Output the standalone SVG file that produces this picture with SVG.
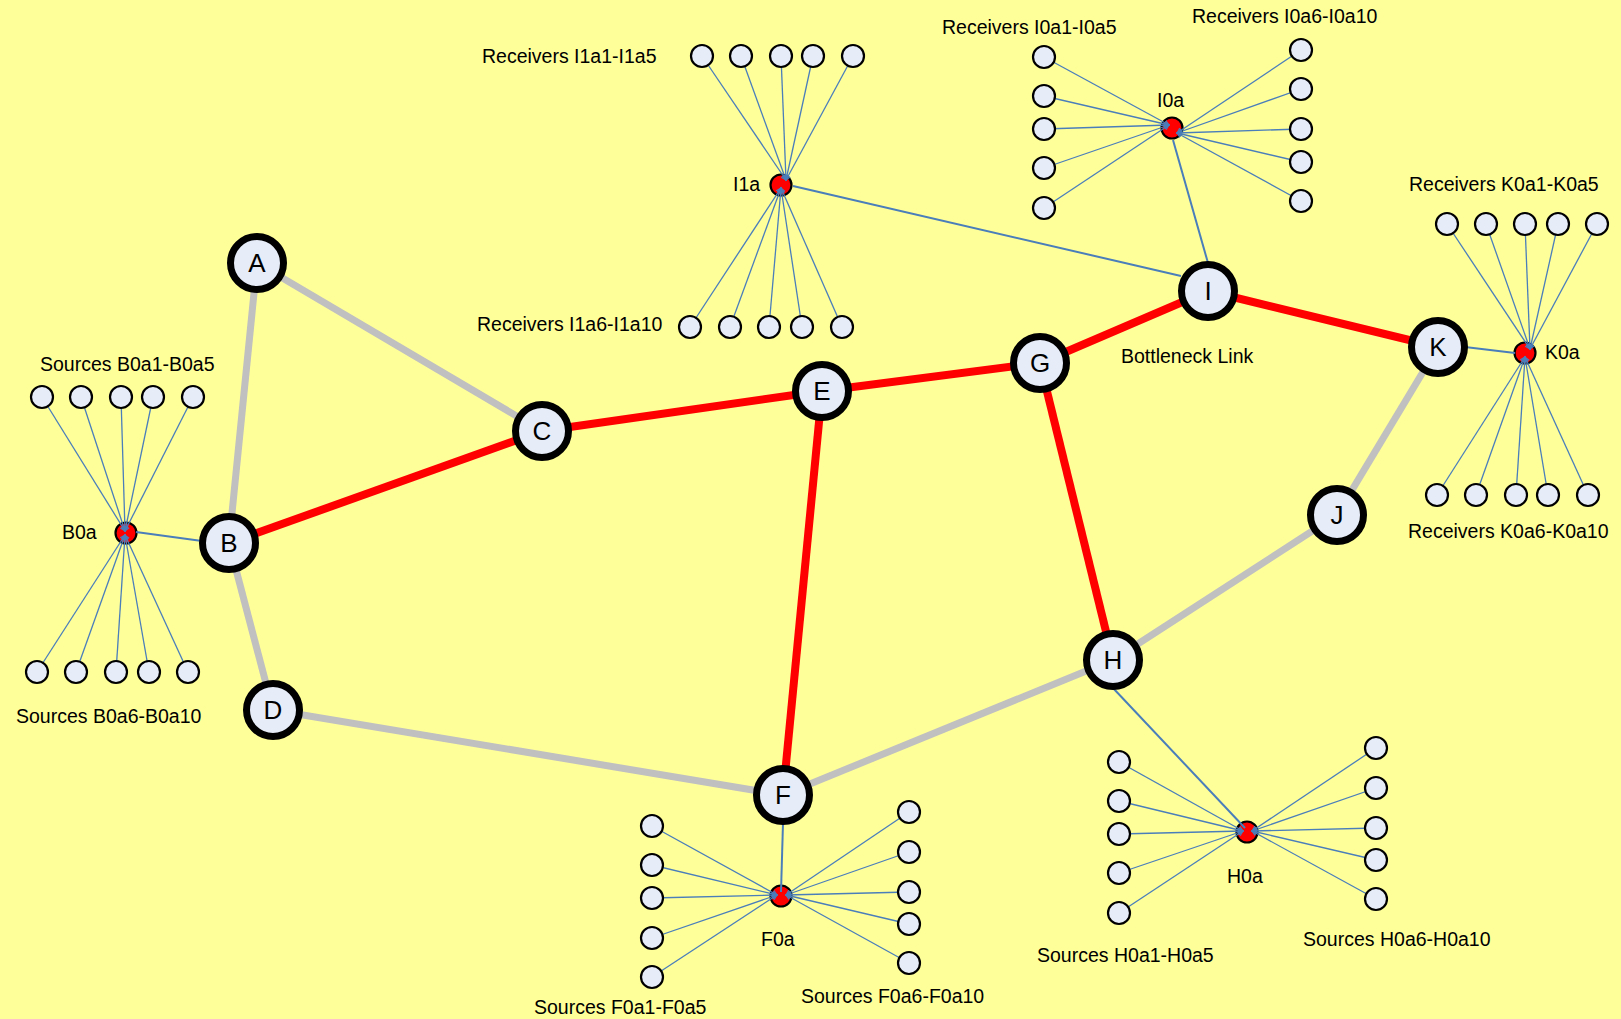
<svg xmlns="http://www.w3.org/2000/svg" width="1621" height="1019" viewBox="0 0 1621 1019">
<style>
.bg{fill:#FFFF99}
.gray{stroke:#C0C0C0;stroke-width:7;fill:none}
.red{stroke:#FF0000;stroke-width:8;fill:none}
.thin{stroke:#4A7EBB;stroke-width:1.3;fill:none;marker-end:url(#arr)}
.up{stroke:#4A7EBB;stroke-width:2;fill:none}
.main circle{fill:#E6ECF8;stroke:#000;stroke-width:7}
.main text{font-family:"Liberation Sans",Arial,sans-serif;font-size:26px;text-anchor:middle;fill:#000}
.leaf circle{fill:#E6ECF8;stroke:#000;stroke-width:2.2}
.hub circle{fill:#FF0000;stroke:#000;stroke-width:2.2}
.lbl{font-family:"Liberation Sans",Arial,sans-serif;font-size:19.5px;fill:#000}
</style>
<defs>
<marker id="arr" markerWidth="7" markerHeight="7" refX="5" refY="3" orient="auto" markerUnits="userSpaceOnUse">
<path d="M0,0.5 L5,3 L0,5.5" fill="none" stroke="#4A7EBB" stroke-width="1.1"/>
</marker>
</defs>
<rect class="bg" x="0" y="0" width="1621" height="1019"/>

<g id="links">
<line class="gray" x1="257" y1="263" x2="229" y2="543"/>
<line class="gray" x1="257" y1="263" x2="542" y2="431"/>
<line class="gray" x1="229" y1="543" x2="273" y2="710"/>
<line class="gray" x1="273" y1="710" x2="783" y2="795"/>
<line class="gray" x1="783" y1="795" x2="1113" y2="660"/>
<line class="gray" x1="1113" y1="660" x2="1337" y2="515"/>
<line class="gray" x1="1337" y1="515" x2="1438" y2="347"/>
<line class="red" x1="229" y1="543" x2="542" y2="431"/>
<line class="red" x1="542" y1="431" x2="822" y2="391"/>
<line class="red" x1="822" y1="391" x2="1040" y2="363"/>
<line class="red" x1="1040" y1="363" x2="1208" y2="291"/>
<line class="red" x1="1208" y1="291" x2="1438" y2="347"/>
<line class="red" x1="822" y1="391" x2="783" y2="795"/>
<line class="red" x1="1040" y1="363" x2="1113" y2="660"/>
</g>

<g id="hubs" class="hub">
<g id="B0a"><circle cx="126" cy="533" r="10.5"/></g>
<g id="I1a"><circle cx="781" cy="185" r="10.5"/></g>
<g id="I0a"><circle cx="1172" cy="128" r="10.5"/></g>
<g id="K0a"><circle cx="1525" cy="353" r="10.5"/></g>
<g id="F0a"><circle cx="781" cy="896" r="10.5"/></g>
<g id="H0a"><circle cx="1247" cy="832" r="10.5"/></g>
</g>

<g id="connectors">
<!-- B0a -->
<line class="thin" x1="42" y1="397" x2="125" y2="531"/>
<line class="thin" x1="81" y1="397" x2="125" y2="531"/>
<line class="thin" x1="121" y1="397" x2="125" y2="531"/>
<line class="thin" x1="153" y1="397" x2="125" y2="531"/>
<line class="thin" x1="193" y1="397" x2="125" y2="531"/>
<line class="thin" x1="37" y1="672" x2="125" y2="535"/>
<line class="thin" x1="76" y1="672" x2="125" y2="535"/>
<line class="thin" x1="116" y1="672" x2="125" y2="535"/>
<line class="thin" x1="149" y1="672" x2="125" y2="535"/>
<line class="thin" x1="188" y1="672" x2="125" y2="535"/>
<line class="up" x1="136" y1="532" x2="202" y2="541"/>
<!-- I1a -->
<line class="thin" x1="702" y1="56" x2="786" y2="180"/>
<line class="thin" x1="741" y1="56" x2="786" y2="180"/>
<line class="thin" x1="781" y1="56" x2="786" y2="180"/>
<line class="thin" x1="813" y1="56" x2="786" y2="180"/>
<line class="thin" x1="853" y1="56" x2="786" y2="180"/>
<line class="thin" x1="690" y1="327" x2="781" y2="188"/>
<line class="thin" x1="730" y1="327" x2="781" y2="188"/>
<line class="thin" x1="769" y1="327" x2="781" y2="188"/>
<line class="thin" x1="802" y1="327" x2="781" y2="188"/>
<line class="thin" x1="842" y1="327" x2="781" y2="188"/>
<line class="up" x1="793" y1="186" x2="1181" y2="276"/>
<!-- I0a -->
<line class="thin" x1="1044" y1="57" x2="1169" y2="125"/>
<line class="thin" x1="1044" y1="96" x2="1169" y2="125"/>
<line class="thin" x1="1044" y1="129" x2="1169" y2="125"/>
<line class="thin" x1="1044" y1="168" x2="1169" y2="125"/>
<line class="thin" x1="1044" y1="208" x2="1169" y2="125"/>
<line class="thin" x1="1301" y1="50" x2="1177" y2="133"/>
<line class="thin" x1="1301" y1="89" x2="1177" y2="133"/>
<line class="thin" x1="1301" y1="129" x2="1177" y2="133"/>
<line class="thin" x1="1301" y1="162" x2="1177" y2="133"/>
<line class="thin" x1="1301" y1="201" x2="1177" y2="133"/>
<line class="up" x1="1173" y1="140" x2="1208" y2="263"/>
<!-- K0a -->
<line class="thin" x1="1447" y1="224" x2="1530" y2="349"/>
<line class="thin" x1="1486" y1="224" x2="1530" y2="349"/>
<line class="thin" x1="1525" y1="224" x2="1530" y2="349"/>
<line class="thin" x1="1558" y1="224" x2="1530" y2="349"/>
<line class="thin" x1="1597" y1="224" x2="1530" y2="349"/>
<line class="thin" x1="1437" y1="495" x2="1525" y2="357"/>
<line class="thin" x1="1476" y1="495" x2="1525" y2="357"/>
<line class="thin" x1="1516" y1="495" x2="1525" y2="357"/>
<line class="thin" x1="1548" y1="495" x2="1525" y2="357"/>
<line class="thin" x1="1588" y1="495" x2="1525" y2="357"/>
<line class="up" x1="1465" y1="347" x2="1515" y2="353"/>
<!-- F0a -->
<line class="thin" x1="652" y1="826" x2="777" y2="895"/>
<line class="thin" x1="652" y1="865" x2="777" y2="895"/>
<line class="thin" x1="652" y1="898" x2="777" y2="895"/>
<line class="thin" x1="652" y1="938" x2="777" y2="895"/>
<line class="thin" x1="652" y1="977" x2="777" y2="895"/>
<line class="thin" x1="909" y1="812" x2="786" y2="895"/>
<line class="thin" x1="909" y1="852" x2="786" y2="895"/>
<line class="thin" x1="909" y1="892" x2="786" y2="895"/>
<line class="thin" x1="909" y1="924" x2="786" y2="895"/>
<line class="thin" x1="909" y1="963" x2="786" y2="895"/>
<line class="up" x1="783" y1="823" x2="781" y2="892"/>
<!-- H0a -->
<line class="thin" x1="1119" y1="762" x2="1243" y2="831"/>
<line class="thin" x1="1119" y1="801" x2="1243" y2="831"/>
<line class="thin" x1="1119" y1="834" x2="1243" y2="831"/>
<line class="thin" x1="1119" y1="873" x2="1243" y2="831"/>
<line class="thin" x1="1119" y1="913" x2="1243" y2="831"/>
<line class="thin" x1="1376" y1="748" x2="1252" y2="831"/>
<line class="thin" x1="1376" y1="788" x2="1252" y2="831"/>
<line class="thin" x1="1376" y1="828" x2="1252" y2="831"/>
<line class="thin" x1="1376" y1="860" x2="1252" y2="831"/>
<line class="thin" x1="1376" y1="899" x2="1252" y2="831"/>
<line class="up" x1="1113" y1="688" x2="1245" y2="828"/>
</g>

<g id="leaves" class="leaf">
<g id="B0a-leaves">
<circle cx="42" cy="397" r="11"/><circle cx="81" cy="397" r="11"/><circle cx="121" cy="397" r="11"/><circle cx="153" cy="397" r="11"/><circle cx="193" cy="397" r="11"/>
<circle cx="37" cy="672" r="11"/><circle cx="76" cy="672" r="11"/><circle cx="116" cy="672" r="11"/><circle cx="149" cy="672" r="11"/><circle cx="188" cy="672" r="11"/>
</g>
<g id="I1a-leaves">
<circle cx="702" cy="56" r="11"/><circle cx="741" cy="56" r="11"/><circle cx="781" cy="56" r="11"/><circle cx="813" cy="56" r="11"/><circle cx="853" cy="56" r="11"/>
<circle cx="690" cy="327" r="11"/><circle cx="730" cy="327" r="11"/><circle cx="769" cy="327" r="11"/><circle cx="802" cy="327" r="11"/><circle cx="842" cy="327" r="11"/>
</g>
<g id="I0a-leaves">
<circle cx="1044" cy="57" r="11"/><circle cx="1044" cy="96" r="11"/><circle cx="1044" cy="129" r="11"/><circle cx="1044" cy="168" r="11"/><circle cx="1044" cy="208" r="11"/>
<circle cx="1301" cy="50" r="11"/><circle cx="1301" cy="89" r="11"/><circle cx="1301" cy="129" r="11"/><circle cx="1301" cy="162" r="11"/><circle cx="1301" cy="201" r="11"/>
</g>
<g id="K0a-leaves">
<circle cx="1447" cy="224" r="11"/><circle cx="1486" cy="224" r="11"/><circle cx="1525" cy="224" r="11"/><circle cx="1558" cy="224" r="11"/><circle cx="1597" cy="224" r="11"/>
<circle cx="1437" cy="495" r="11"/><circle cx="1476" cy="495" r="11"/><circle cx="1516" cy="495" r="11"/><circle cx="1548" cy="495" r="11"/><circle cx="1588" cy="495" r="11"/>
</g>
<g id="F0a-leaves">
<circle cx="652" cy="826" r="11"/><circle cx="652" cy="865" r="11"/><circle cx="652" cy="898" r="11"/><circle cx="652" cy="938" r="11"/><circle cx="652" cy="977" r="11"/>
<circle cx="909" cy="812" r="11"/><circle cx="909" cy="852" r="11"/><circle cx="909" cy="892" r="11"/><circle cx="909" cy="924" r="11"/><circle cx="909" cy="963" r="11"/>
</g>
<g id="H0a-leaves">
<circle cx="1119" cy="762" r="11"/><circle cx="1119" cy="801" r="11"/><circle cx="1119" cy="834" r="11"/><circle cx="1119" cy="873" r="11"/><circle cx="1119" cy="913" r="11"/>
<circle cx="1376" cy="748" r="11"/><circle cx="1376" cy="788" r="11"/><circle cx="1376" cy="828" r="11"/><circle cx="1376" cy="860" r="11"/><circle cx="1376" cy="899" r="11"/>
</g>
</g>

<g id="routers" class="main">
<g id="A"><circle cx="257" cy="263" r="26.5"/><text x="257" y="272">A</text></g>
<g id="B"><circle cx="229" cy="543" r="26.5"/><text x="229" y="552">B</text></g>
<g id="C"><circle cx="542" cy="431" r="26.5"/><text x="542" y="440">C</text></g>
<g id="D"><circle cx="273" cy="710" r="26.5"/><text x="273" y="719">D</text></g>
<g id="E"><circle cx="822" cy="391" r="26.5"/><text x="822" y="400">E</text></g>
<g id="F"><circle cx="783" cy="795" r="26.5"/><text x="783" y="804">F</text></g>
<g id="G"><circle cx="1040" cy="363" r="26.5"/><text x="1040" y="372">G</text></g>
<g id="H"><circle cx="1113" cy="660" r="26.5"/><text x="1113" y="669">H</text></g>
<g id="I"><circle cx="1208" cy="291" r="26.5"/><text x="1208" y="300">I</text></g>
<g id="J"><circle cx="1337" cy="515" r="26.5"/><text x="1337" y="524">J</text></g>
<g id="K"><circle cx="1438" cy="347" r="26.5"/><text x="1438" y="356">K</text></g>
</g>

<g id="labels" class="lbl">
<text x="482" y="63">Receivers I1a1-I1a5</text>
<text x="477" y="331">Receivers I1a6-I1a10</text>
<text x="733" y="191">I1a</text>
<text x="942" y="34">Receivers I0a1-I0a5</text>
<text x="1192" y="23">Receivers I0a6-I0a10</text>
<text x="1157" y="107">I0a</text>
<text x="1409" y="191">Receivers K0a1-K0a5</text>
<text x="1408" y="538">Receivers K0a6-K0a10</text>
<text x="1545" y="359">K0a</text>
<text x="40" y="371">Sources B0a1-B0a5</text>
<text x="16" y="723">Sources B0a6-B0a10</text>
<text x="62" y="539">B0a</text>
<text x="1121" y="363">Bottleneck Link</text>
<text x="761" y="946">F0a</text>
<text x="534" y="1014">Sources F0a1-F0a5</text>
<text x="801" y="1003">Sources F0a6-F0a10</text>
<text x="1227" y="883">H0a</text>
<text x="1037" y="962">Sources H0a1-H0a5</text>
<text x="1303" y="946">Sources H0a6-H0a10</text>
</g>
</svg>
